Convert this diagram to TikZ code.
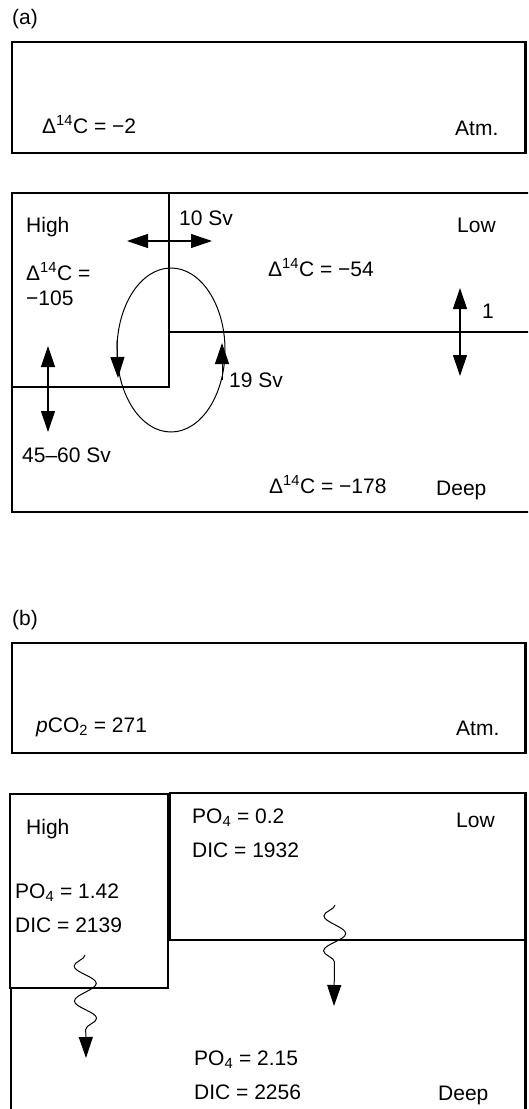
\documentclass[tikz,border=0pt]{standalone}
\usepackage{fontspec}
\setmainfont{Liberation Sans}
\definecolor{inkcol}{HTML}{000000}
\usetikzlibrary{arrows.meta,decorations.pathmorphing}

\newcommand{\dcf}{Δ\textsuperscript{14}C}

\tikzset{
  wall/.style={inkcol, line width=2.6pt},
  lbl/.style={anchor=base west, inner sep=0pt, font=\fontsize{21}{25}\selectfont},
  flux/.style={inkcol, line width=1.1pt,
    {Triangle[length=21pt,width=14pt]}-{Triangle[length=21pt,width=14pt]}},
  sink/.style={inkcol, line width=1pt, -{Triangle[length=21pt,width=14pt]}},
  wavy/.style={sink, decorate,
    decoration={snake, amplitude=-11pt, segment length=35pt, post length=28pt}},
}

\begin{document}
\begin{tikzpicture}[x=1pt, y=-1pt]
\path[use as bounding box] (0,0) rectangle (528,1109);
\clip (0,0) rectangle (528,1109);

% === (a): radiocarbon ===
\begin{scope}[shift={(0,0)}]
  \node[lbl] (tagA) at (12,24) {(a)};
  \draw[wall] (12,42) rectangle (525.5,153);
  \node[lbl] (atmvalA) at (42,133) {\dcf{} = −2};
  \node[lbl] (atmA) at (455,135) {Atm.};

  % ocean boxes
  \draw[wall] (530,193) -- (12,193) -- (12,512) -- (530,512);
  \draw[wall] (169,193) -- (169,387) -- (12,387);
  \draw[wall] (169,332) -- (530,332);

  \node[lbl] (highA) at (26,232) {High};
  \node[lbl] (highvalA) at (26,280) {\dcf{} =};
  \node[lbl] (highnumA) at (26,305) {−105};
  \node[lbl] (lowA) at (457,232) {Low};
  \node[lbl] (lowvalA) at (268,276) {\dcf{} = −54};
  \node[lbl] (deepvalA) at (269,493) {\dcf{} = −178};
  \node[lbl] (deepA) at (436,495) {Deep};

  % exchange High <-> Low
  \coordinate (mixW) at (127,241);
  \coordinate (mixE) at (212,241);
  \draw[flux] (mixW) -- (mixE);
  \node[lbl] (mixlbl) at (179,225) {10 Sv};

  % exchange Low <-> Deep
  \coordinate (diffU) at (460,288);
  \coordinate (diffD) at (460,376);
  \draw[flux] (diffU) -- (diffD);
  \node[lbl] (difflbl) at (482,318) {1};

  % exchange High <-> Deep
  \coordinate (convU) at (48,346);
  \coordinate (convD) at (48,432);
  \draw[flux] (convU) -- (convD);
  \node[lbl] (convlbl) at (22,462) {45--60 Sv};

  % overturning cell
  \coordinate (cellC) at (171,350);
  \draw[inkcol, line width=1pt] (cellC) ellipse [x radius=54pt, y radius=82pt];
  \coordinate (cellLa) at (117,340);
  \coordinate (cellLb) at (118,378);
  \draw[sink] (cellLa) -- (cellLb);
  \coordinate (cellRa) at (222,380);
  \coordinate (cellRb) at (222,343);
  \draw[sink] (cellRa) -- (cellRb);
  \node[lbl] (celllbl) at (229,387) {19 Sv};
\end{scope}

% === (b): carbon and phosphate ===
\begin{scope}[shift={(0,601)}]
  \node[lbl] (tagB) at (12,24) {(b)};
  \draw[wall] (12,42) rectangle (525.5,152);
  \node[lbl] (atmvalB) at (36,131) {\textit{p}CO\textsubscript{2} = 271};
  \node[lbl] (atmB) at (456,134) {Atm.};

  % ocean boxes
  \draw[wall] (10,193) rectangle (168,387);
  \draw[wall] (170,192) rectangle (525.5,339);
  \draw[wall] (11,387) -- (11,512) -- (525.5,512) -- (525.5,339);

  \node[lbl] (highB) at (26,233) {High};
  \node[lbl] (highpB) at (15,297) {PO\textsubscript{4} = 1.42};
  \node[lbl] (highcB) at (15,331) {DIC = 2139};
  \node[lbl] (lowpB) at (192,222) {PO\textsubscript{4} = 0.2};
  \node[lbl] (lowcB) at (192,256) {DIC = 1932};
  \node[lbl] (lowB) at (456,226) {Low};
  \node[lbl] (deeppB) at (194,464) {PO\textsubscript{4} = 2.15};
  \node[lbl] (deepcB) at (194,498) {DIC = 2256};
  \node[lbl] (deepB) at (438,499) {Deep};

  % sinking organic matter
  \coordinate (rainHa) at (85,354);
  \coordinate (rainHb) at (86,457);
  \draw[wavy] (rainHa) -- (rainHb);
  \coordinate (rainLa) at (335,304);
  \coordinate (rainLb) at (334,405);
  \draw[wavy] (rainLa) -- (rainLb);
\end{scope}

\end{tikzpicture}
\end{document}
